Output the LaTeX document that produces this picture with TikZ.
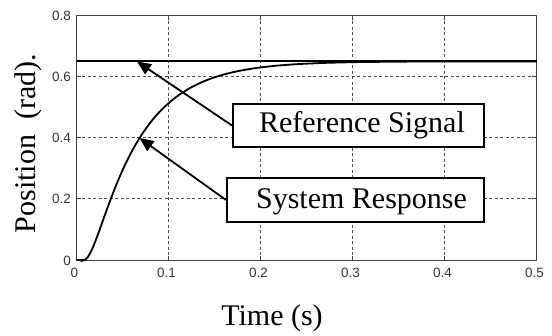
\documentclass[tikz,border=0pt]{standalone}
\usepackage{fontspec}
\setmainfont{Liberation Serif}
\newfontfamily\ticksfont{Liberation Sans}
\usetikzlibrary{arrows.meta}
\begin{document}
\begin{tikzpicture}[x=1pt,y=-1pt,
  gridline/.style={draw=black!70, line width=0.8pt, dash pattern=on 3pt off 2.5pt},
  frame/.style={draw=black!75, line width=1pt},
  tickmark/.style={draw=black!75, line width=0.8pt},
  curve/.style={draw=black, line width=1.8pt},
  ticklbl/.style={font=\ticksfont\fontsize{13.5}{13.5}\selectfont, text=black!80, inner sep=0pt},
  biglbl/.style={font=\fontsize{30}{30}\selectfont, inner sep=0pt},
  callout/.style={draw=black, line width=2pt, fill=white, inner sep=0pt},
  pointer/.style={draw=black, line width=1.8pt, -{Triangle[length=14pt,width=12pt]}},
]
\fill[white] (0,0) rectangle (552,335);
\useasboundingbox (0,0) rectangle (552,335);
% grid
\foreach \i in {1,...,4} \draw[gridline] ({76.5+92*\i},15.5) -- ({76.5+92*\i},260);
\foreach \j in {1,2,3} \draw[gridline] (76.5,{260-61.125*\j}) -- (536.5,{260-61.125*\j});
% ticks
\foreach \i in {1,...,4} {
  \draw[tickmark] ({76.5+92*\i},260) -- ({76.5+92*\i},255.5);
  \draw[tickmark] ({76.5+92*\i},15.5) -- ({76.5+92*\i},20);
}
\foreach \j in {1,2,3} {
  \draw[tickmark] (76.5,{260-61.125*\j}) -- (81,{260-61.125*\j});
  \draw[tickmark] (536.5,{260-61.125*\j}) -- (532,{260-61.125*\j});
}
% frame
\draw[frame] (76.5,15.5) rectangle (536.5,260);
% tick labels
\foreach \v/\l in {0/0,1/0.2,2/0.4,3/0.6,4/0.8}
  \node[ticklbl, anchor=base east] (yt\v) at (71,{265-61.125*\v}) {\l};
\foreach \v/\l in {0/0,1/0.1,2/0.2,3/0.3,4/0.4,5/0.5}
  \node[ticklbl, anchor=base] (xt\v) at ({74.5+92*\v},277) {\l};
% axis labels
\node[biglbl, anchor=base] (xlabel) at (272,325) {Time (s)};
\node[biglbl, anchor=base, rotate=90] (ylabel) at (35,143.5) {Position~~(rad).};
% reference signal
\draw[curve] (76.5,61.36) -- (536.5,61.36);
% system response
\draw[curve] (76.5,260) -- (83.9,260)
  -- plot[domain=0.008:0.5, samples=220, smooth]
  ({76.5+920*\x},{260-198.64*(1-(0.052*exp(-(\x-0.008)/0.052)-0.01*exp(max(-(\x-0.008)/0.01,-15)))/0.042)});
% callouts
\node[callout, minimum width=251pt, minimum height=43pt] (refbox) at (358.5,125.5) {};
\node[biglbl, anchor=base] (reftext) at (362,132.5) {Reference Signal};
\node[callout, minimum width=257pt, minimum height=44pt] (sysbox) at (355.5,200) {};
\node[biglbl, anchor=base] (systext) at (361.5,208.5) {System Response};
% arrow targets
\coordinate (reftip) at (137,61.5);
\coordinate (systip) at (139.5,138);
\draw[pointer] (refbox.west) -- (reftip);
\draw[pointer] (sysbox.west) -- (systip);
\end{tikzpicture}
\end{document}
